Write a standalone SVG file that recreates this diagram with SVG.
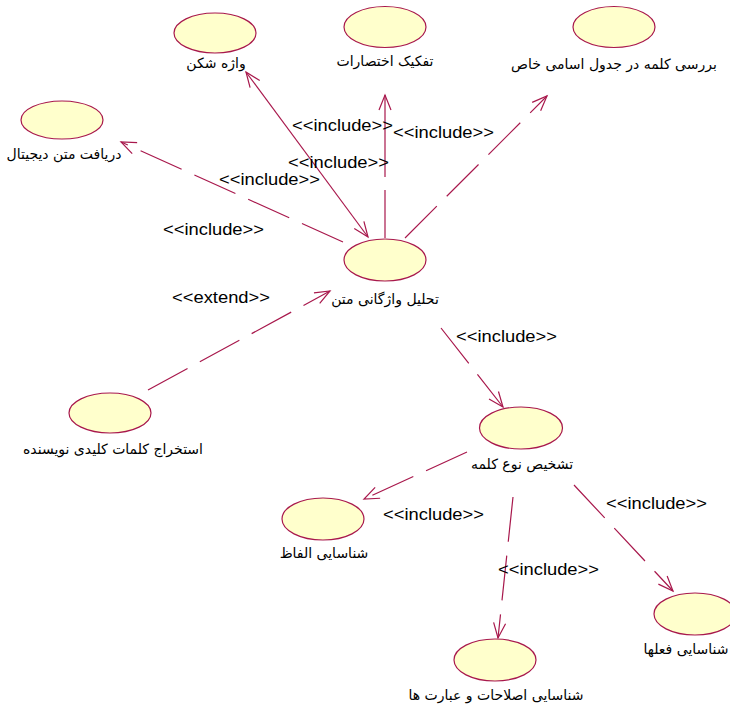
<svg xmlns="http://www.w3.org/2000/svg" width="730" height="708" viewBox="0 0 730 708">
<style>
.uc{fill:#FFFFCC;stroke:#A8184C;stroke-width:1.2}
.lbl{font-family:"DejaVu Sans","Noto Sans",sans-serif;font-size:14px;fill:#000;text-anchor:middle}
.st{font-family:"Liberation Sans",Arial,sans-serif;font-size:17px;fill:#000}
.ln{fill:none;stroke:#A8184C;stroke-width:1.2}
.d{stroke-dasharray:45 14}
</style>
<defs>
<marker id="ah" markerUnits="userSpaceOnUse" markerWidth="20" markerHeight="16" refX="15" refY="6" orient="auto-start-reverse" overflow="visible">
<path d="M0,0 L15,6 L0,12" fill="none" stroke="#A8184C" stroke-width="1.2"/>
</marker>
</defs>
<rect width="730" height="708" fill="#fff"/>
<g id="connectors">
<path class="ln" d="M368,237 L246,72" marker-start="url(#ah)" marker-end="url(#ah)"/>
<path class="ln" d="M385,238 L385,95" stroke-dasharray="48 13 200" marker-end="url(#ah)"/>
<path class="ln d" d="M405,238 L547,96" marker-end="url(#ah)"/>
<path class="ln d" d="M343,242 L121,142" marker-end="url(#ah)"/>
<path class="ln d" d="M148,390 L330,291" marker-end="url(#ah)"/>
<path class="ln d" d="M441,328 L503,407" marker-end="url(#ah)"/>
<path class="ln d" d="M467,452 L364,499" marker-end="url(#ah)"/>
<path class="ln d" d="M513,497 L498,638" marker-end="url(#ah)"/>
<path class="ln d" d="M574,485 L673,591" marker-end="url(#ah)"/>
</g>
<g id="stereotypes">
<text class="st" x="292" y="131" textLength="101" lengthAdjust="spacingAndGlyphs">&lt;&lt;include&gt;&gt;</text>
<text class="st" x="393" y="138" textLength="101" lengthAdjust="spacingAndGlyphs">&lt;&lt;include&gt;&gt;</text>
<text class="st" x="288" y="168" textLength="101" lengthAdjust="spacingAndGlyphs">&lt;&lt;include&gt;&gt;</text>
<text class="st" x="219" y="185" textLength="101" lengthAdjust="spacingAndGlyphs">&lt;&lt;include&gt;&gt;</text>
<text class="st" x="163" y="235" textLength="101" lengthAdjust="spacingAndGlyphs">&lt;&lt;include&gt;&gt;</text>
<text class="st" x="172" y="303" textLength="98" lengthAdjust="spacingAndGlyphs">&lt;&lt;extend&gt;&gt;</text>
<text class="st" x="456" y="342" textLength="101" lengthAdjust="spacingAndGlyphs">&lt;&lt;include&gt;&gt;</text>
<text class="st" x="383" y="520" textLength="101" lengthAdjust="spacingAndGlyphs">&lt;&lt;include&gt;&gt;</text>
<text class="st" x="606" y="509" textLength="101" lengthAdjust="spacingAndGlyphs">&lt;&lt;include&gt;&gt;</text>
<text class="st" x="498" y="575" textLength="101" lengthAdjust="spacingAndGlyphs">&lt;&lt;include&gt;&gt;</text>
</g>
<g id="n-vajehshekan"><ellipse class="uc" cx="215" cy="33" rx="41" ry="20"/><text class="lbl" x="216" y="68">واژه شکن</text></g>
<g id="n-tafkik"><ellipse class="uc" cx="385" cy="27" rx="41" ry="20.5"/><text class="lbl" x="385" y="66">تفکیک اختصارات</text></g>
<g id="n-barresi"><ellipse class="uc" cx="614" cy="27" rx="41" ry="20.5"/><text class="lbl" x="614" y="69">بررسی کلمه در جدول اسامی خاص</text></g>
<g id="n-daryaft"><ellipse class="uc" cx="62" cy="120" rx="41" ry="19"/><text class="lbl" x="64" y="159">دریافت متن دیجیتال</text></g>
<g id="n-tahlil"><ellipse class="uc" cx="385" cy="260" rx="41" ry="21"/><text class="lbl" x="385" y="304">تحلیل واژگانی متن</text></g>
<g id="n-estekhraj"><ellipse class="uc" cx="110" cy="413" rx="41" ry="20"/><text class="lbl" x="113" y="454">استخراج کلمات کلیدی نویسنده</text></g>
<g id="n-tashkhis"><ellipse class="uc" cx="521" cy="428" rx="41.5" ry="21"/><text class="lbl" x="522" y="469">تشخیص نوع کلمه</text></g>
<g id="n-alfaz"><ellipse class="uc" cx="323" cy="519" rx="41" ry="21"/><text class="lbl" x="324" y="558">شناسایی الفاظ</text></g>
<g id="n-estelahat"><ellipse class="uc" cx="495" cy="660" rx="41" ry="21"/><text class="lbl" x="496" y="700">شناسایی اصلاحات و عبارت ها</text></g>
<g id="n-feel"><ellipse class="uc" cx="695" cy="614" rx="41" ry="21"/><text class="lbl" x="686" y="654">شناسایی فعلها</text></g>
</svg>
